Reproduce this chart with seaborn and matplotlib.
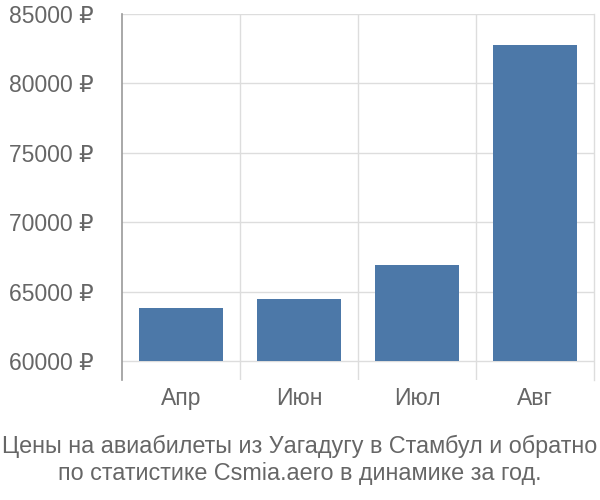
import matplotlib
matplotlib.use("Agg")
import matplotlib.pyplot as plt
import seaborn as sns
import pandas as pd
from matplotlib.ticker import FuncFormatter, FixedLocator

months = ["Апр", "Июн", "Июл", "Авг"]
prices = [63820, 64470, 66940, 82800]
yticks = [60000, 65000, 70000, 75000, 80000, 85000]
title = "Цены на авиабилеты из Уагадугу в Стамбул и обратно\nпо статистике Csmia.aero в динамике за год."

sns.set_style("white")
plt.rcParams['font.family'] = ['Liberation Sans', 'DejaVu Sans']

df = pd.DataFrame({"month": months, "price": prices})

fig = plt.figure(figsize=(6, 5), dpi=100)
ax = fig.add_axes([122/600, 1-380/500, (594-122)/600, (380-14)/500])

sns.barplot(data=df, x="month", y="price", color="#4c78a8", saturation=1,
            width=0.72, ax=ax, zorder=3)
base = 60000
for p in ax.patches:
    h = p.get_height()
    p.set_y(base)
    p.set_height(h - base)
    p.set_edgecolor("none")

ymin = 60000 - 18.7 / 13.87 * 1000
ax.set_ylim(ymin, 85000)
ax.set_xlim(-0.5, 3.5)
ax.yaxis.set_major_locator(FixedLocator(yticks))
ax.yaxis.set_major_formatter(FuncFormatter(lambda v, pos: f"{int(v)} ₽"))
ax.set_xticks(range(len(months)))
ax.set_xticks([0.5, 1.5, 2.5], minor=True)

ax.grid(axis="y", which="major", color="#dddddd", linewidth=1, zorder=0)
ax.grid(axis="x", which="minor", color="#dddddd", linewidth=1, zorder=0)
ax.set_axisbelow(True)

ax.tick_params(axis="y", which="major", length=20, width=1, color="#dddddd",
               labelsize=16.5, labelcolor="#666666", pad=0.5)
ax.tick_params(axis="x", which="both", length=0, labelsize=16.5,
               labelcolor="#666666", pad=5)
ax.set_xlabel("")
ax.set_ylabel("")

for s in ["top", "bottom"]:
    ax.spines[s].set_visible(False)
ax.spines["right"].set_color("#dddddd")
ax.spines["right"].set_linewidth(1)
ax.spines["left"].set_color("#999999")
ax.spines["left"].set_linewidth(1.2)

fig.text(0.5, 1 - 460/500, title, ha="center", va="center", fontsize=16.8,
         color="#666666", linespacing=1.2)

fig.savefig("out.png", dpi=100)
